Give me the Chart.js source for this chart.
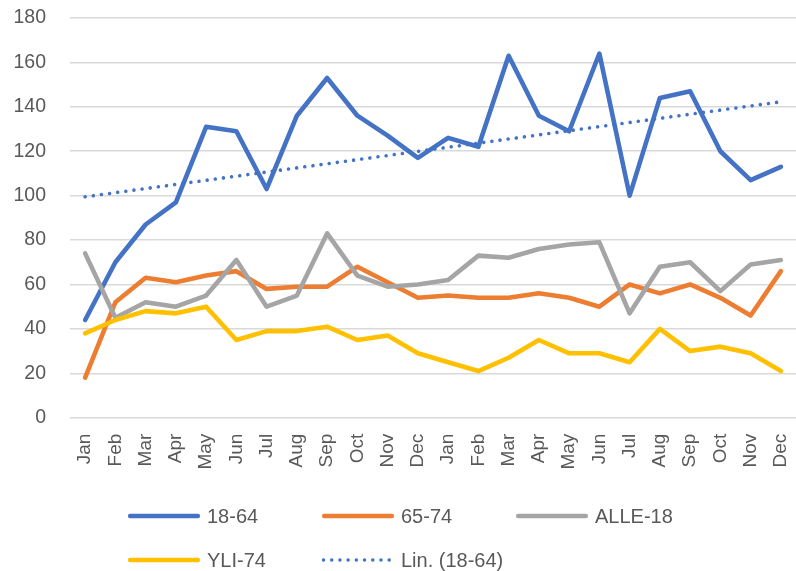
<!DOCTYPE html>
<html>
<head>
<meta charset="utf-8">
<script src="https://cdn.jsdelivr.net/npm/chart.js@4"></script>
<style>
  html, body { margin: 0; padding: 0; background: #ffffff; }
  #wrap { width: 796px; height: 571px; position: relative; }
</style>
</head>
<body>
<div id="wrap"><canvas id="c" width="796" height="571"></canvas></div>
<script>
// Two years of monthly counts by age group
const months = ['Jan', 'Feb', 'Mar', 'Apr', 'May', 'Jun', 'Jul', 'Aug', 'Sep', 'Oct', 'Nov', 'Dec',
                'Jan', 'Feb', 'Mar', 'Apr', 'May', 'Jun', 'Jul', 'Aug', 'Sep', 'Oct', 'Nov', 'Dec'];
const age18to64 = [44, 70, 87, 97, 131, 129, 103, 136, 153, 136, 127, 117,
                   126, 122, 163, 136, 129, 164, 100, 144, 147, 120, 107, 113];
const age65to74 = [18, 52, 63, 61, 64, 66, 58, 59, 59, 68, 61, 54,
                   55, 54, 54, 56, 54, 50, 60, 56, 60, 54, 46, 66];
const under18   = [74, 45, 52, 50, 55, 71, 50, 55, 83, 64, 59, 60,
                   62, 73, 72, 76, 78, 79, 47, 68, 70, 57, 69, 71];
const over74    = [38, 44, 48, 47, 50, 35, 39, 39, 41, 35, 37, 29,
                   25, 21, 27, 35, 29, 29, 25, 40, 30, 32, 29, 21];
const yTicks = [0, 20, 40, 60, 80, 100, 120, 140, 160, 180];

// Least-squares linear trend of the 18-64 series
function linearTrend(values) {
  const n = values.length;
  const xMean = (n - 1) / 2;
  const yMean = values.reduce((a, b) => a + b, 0) / n;
  let sxy = 0, sxx = 0;
  values.forEach((v, i) => { sxy += (i - xMean) * (v - yMean); sxx += (i - xMean) * (i - xMean); });
  const slope = sxy / sxx;
  const intercept = yMean - slope * xMean;
  return values.map((_, i) => intercept + slope * i);
}
const trend18to64 = linearTrend(age18to64);

const TEXT = '#595959';
const FONT = '"Liberation Sans", Arial, sans-serif';

function series(label, data, color, order) {
  return {
    label, data, order,
    borderColor: color, backgroundColor: color,
    borderWidth: 4.6, pointRadius: 0, pointHoverRadius: 0,
    tension: 0, fill: false,
    borderJoinStyle: 'round', borderCapStyle: 'round'
  };
}

// Legend laid out as a fixed grid of three columns
const gridLegend = {
  id: 'gridLegend',
  afterDraw(chart, args, opts) {
    const ctx = chart.ctx;
    ctx.save();
    chart.data.datasets.forEach((ds, i) => {
      const col = i % opts.columns;
      const row = Math.floor(i / opts.columns);
      const x = opts.left + col * opts.colWidth;
      const y = opts.top + row * opts.rowHeight;
      ctx.beginPath();
      ctx.strokeStyle = ds.borderColor;
      ctx.lineWidth = ds.borderWidth;
      ctx.lineCap = 'round';
      ctx.setLineDash(ds.borderDash || []);
      const inset = ds.borderDash ? 1.5 : 2.2;
      ctx.moveTo(x + inset, y);
      ctx.lineTo(x + opts.lineLength - inset, y);
      ctx.stroke();
      ctx.setLineDash([]);
      ctx.fillStyle = TEXT;
      ctx.font = opts.fontSize + 'px ' + FONT;
      ctx.textBaseline = 'middle';
      ctx.textAlign = 'left';
      ctx.fillText(ds.label, x + opts.lineLength + opts.gap, y + 1);
    });
    ctx.restore();
  }
};

const trendSet = {
  label: 'Lin. (18-64)',
  data: trend18to64,
  order: 0,
  borderColor: '#4472C4',
  borderWidth: 3.6,
  borderDash: [0.01, 8.2],
  borderCapStyle: 'round',
  pointRadius: 0, pointHoverRadius: 0,
  tension: 0, fill: false
};

function noScalePadding(scale) {
  scale.paddingLeft = 0;
  scale.paddingRight = 0;
  scale.paddingTop = 0;
  scale.paddingBottom = 0;
}

new Chart(document.getElementById('c'), {
  type: 'line',
  data: {
    labels: months,
    datasets: [
      series('18-64', age18to64, '#4472C4', 4),
      series('65-74', age65to74, '#ED7D31', 3),
      series('ALLE-18', under18, '#A5A5A5', 2),
      series('YLI-74', over74, '#FFC000', 1),
      trendSet
    ]
  },
  options: {
    responsive: false,
    devicePixelRatio: 1,
    animation: false,
    events: [],
    layout: { padding: { top: 18, right: -4, bottom: 0, left: 0 } },
    plugins: {
      legend: { display: false },
      tooltip: { enabled: false },
      gridLegend: {
        columns: 3, left: 128, top: 516, colWidth: 194, rowHeight: 44,
        lineLength: 72, gap: 7, fontSize: 20
      }
    },
    scales: {
      x: {
        offset: true,
        grid: { display: false, drawTicks: false },
        border: { display: false },
        ticks: {
          autoSkip: false, minRotation: 90, maxRotation: 90,
          padding: 16, color: TEXT, font: { family: FONT, size: 19 }
        },
        afterFit(scale) { scale.height = 153.3; noScalePadding(scale); }
      },
      y: {
        min: 0, max: 180,
        afterBuildTicks(scale) { scale.ticks = yTicks.map(v => ({ value: v })); },
        grid: { color: '#D9D9D9', lineWidth: 1.5, drawTicks: false },
        border: { display: false },
        ticks: { padding: 24, color: TEXT, font: { family: FONT, size: 19.5 } },
        afterFit(scale) { scale.width = 70; noScalePadding(scale); }
      }
    }
  },
  plugins: [gridLegend]
});
</script>
</body>
</html>
